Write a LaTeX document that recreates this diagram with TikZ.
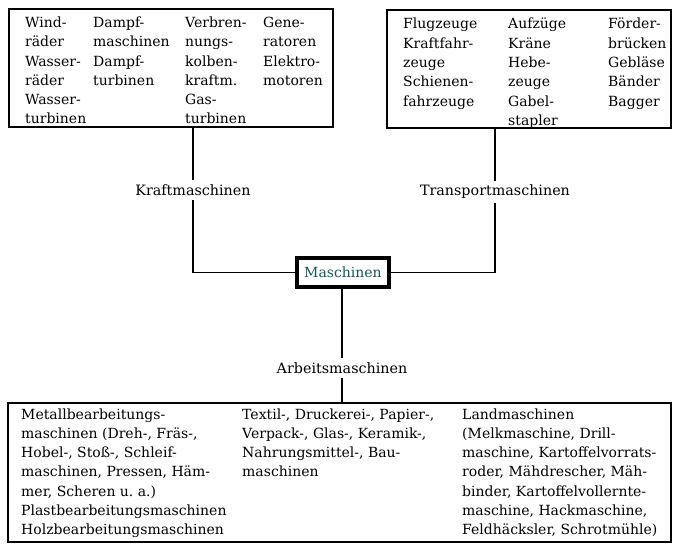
\documentclass[tikz,border=0pt]{standalone}
\usepackage{fontspec}
\setmainfont{DejaVu Serif}
\frenchspacing
\definecolor{mteal}{RGB}{25,85,85}
\newcommand{\mycol}[1]{\begin{tabular}[t]{@{}l@{}}#1\end{tabular}}
\begin{document}
\begin{tikzpicture}[x=1pt,y=-1pt,
  txt/.style={font={\fontsize{14}{19.3}\selectfont},inner sep=0pt,anchor=base west},
  bigbox/.style={draw,line width=1.8pt,inner sep=0pt},
  lab/.style={font={\fontsize{14.3}{16}\selectfont},inner xsep=2pt,inner ysep=4pt},
  conn/.style={line width=1.8pt}]
\useasboundingbox (0,0) rectangle (675,545);
% top-left box
\node[bigbox,minimum width=324,minimum height=118] (tl) at (171,68) {};
\node[txt] (tl1) at (25,27.5) {\mycol{Wind-\\räder\\Wasser-\\räder\\Wasser-\\turbinen}};
\node[txt] (tl2) at (93,27.5) {\mycol{Dampf-\\maschinen\\Dampf-\\turbinen}};
\node[txt] (tl3) at (185,27.5) {\mycol{Verbren-\\nungs-\\kolben-\\kraftm.\\Gas-\\turbinen}};
\node[txt] (tl4) at (263,27.5) {\mycol{Gene-\\ratoren\\Elektro-\\motoren}};
% top-right box
\node[bigbox,minimum width=284,minimum height=118] (tr) at (529,69) {};
\node[txt] (tr1) at (403,29) {\mycol{Flugzeuge\\Kraftfahr-\\zeuge\\Schienen-\\fahrzeuge}};
\node[txt] (tr2) at (508,29) {\mycol{Aufzüge\\Kräne\\Hebe-\\zeuge\\Gabel-\\stapler}};
\node[txt] (tr3) at (608,29) {\mycol{Förder-\\brücken\\Gebläse\\Bänder\\Bagger}};
% bottom box
\node[bigbox,minimum width=663,minimum height=139] (bt) at (339.5,472.5) {};
\node[txt] (bt1) at (21,419) {\mycol{Metallbearbeitungs-\\maschinen (Dreh-, Fräs-,\\Hobel-, Stoß-, Schleif-\\maschinen, Pressen, Häm-\\mer, Scheren u.~a.)\\Plastbearbeitungsmaschinen\\Holzbearbeitungsmaschinen}};
\node[txt] (bt2) at (242,419) {\mycol{Textil-, Druckerei-, Papier-,\\Verpack-, Glas-, Keramik-,\\Nahrungsmittel-, Bau-\\maschinen}};
\node[txt] (bt3) at (462,419) {\mycol{Landmaschinen\\(Melkmaschine, Drill-\\maschine, Kartoffelvorrats-\\roder, Mähdrescher, Mäh-\\binder, Kartoffelvollernte-\\maschine, Hackmaschine,\\Feldhäcksler, Schrotmühle)}};
% center
\node[draw,line width=3.2pt,minimum width=92,minimum height=29,inner sep=0pt,
  font={\fontsize{14}{16}\selectfont},text=mteal] (m) at (343,272.5) {Maschinen};
\node[lab] (k) at (193,190) {Kraftmaschinen};
\node[lab] (t) at (495,192) {Transportmaschinen};
\node[lab] (a) at (342,368) {Arbeitsmaschinen};
% connectors
\draw[conn] (k.north) -- (k.north |- tl.south);
\draw[conn] (k.south) |- (m.west);
\draw[conn] (t.north) -- (t.north |- tr.south);
\draw[conn] (t.south) |- (m.east);
\draw[conn] (a.north |- m.south) -- (a.north);
\draw[conn] (a.south) -- (a.south |- bt.north);
\end{tikzpicture}
\end{document}
